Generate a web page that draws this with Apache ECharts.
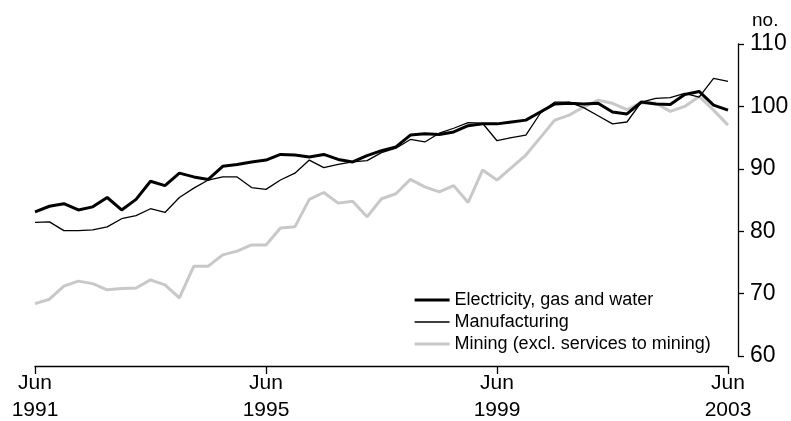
<!DOCTYPE html>
<html><head><meta charset="utf-8">
<script src="https://cdn.jsdelivr.net/npm/echarts@6/dist/echarts.min.js"></script>
<style>html,body{margin:0;padding:0;background:#fff}#c{width:791px;height:421px}</style>
</head><body><div id="c"></div>
<script>
// Quarterly, Jun 1991 .. Jun 2003
var months = ['Jun','Sep','Dec','Mar'];
var categories = [];
(function(){ for (var i = 0; i < 49; i++) { var m = months[i % 4]; var y = 1991 + Math.floor((i + 2) / 4); categories.push(m + ' ' + y); } })();

var electricity = [83.1,84.0,84.4,83.4,83.9,85.4,83.4,85.1,88.0,87.3,89.3,88.7,88.3,90.4,90.7,91.1,91.4,92.3,92.2,91.9,92.3,91.5,91.1,92.1,92.9,93.5,95.4,95.6,95.5,95.9,96.9,97.2,97.2,97.5,97.8,99.1,100.4,100.5,100.4,100.5,99.1,98.8,100.7,100.4,100.3,101.9,102.4,100.2,99.4];
var manufacturing = [81.4,81.5,80.1,80.1,80.2,80.7,82.0,82.5,83.6,83.0,85.4,86.9,88.2,88.7,88.7,87.0,86.7,88.2,89.3,91.4,90.2,90.7,91.1,91.3,92.6,93.3,94.7,94.3,95.7,96.5,97.4,97.3,94.5,95.0,95.4,98.9,100.7,100.7,99.8,98.5,97.2,97.5,100.7,101.3,101.4,102.1,101.5,104.5,104.0];
var mining = [68.4,69.1,71.2,72.0,71.6,70.6,70.8,70.9,72.2,71.4,69.3,74.4,74.4,76.2,76.8,77.8,77.8,80.5,80.7,85.1,86.2,84.5,84.8,82.3,85.2,86.0,88.3,87.1,86.3,87.3,84.6,89.8,88.2,90.2,92.2,95.0,97.8,98.6,99.9,101.0,100.5,99.5,100.6,100.5,99.2,100.0,101.6,99.4,97.0];
var seriesNames = ['Electricity, gas and water','Manufacturing','Mining (excl. services to mining)'];
var yTicks = {min: 60, max: 110, interval: 10};
var yUnit = 'no.';

var chart = echarts.init(document.getElementById('c'), null, {renderer: 'canvas'});
var font = "'Liberation Sans',Arial,sans-serif";
var noSym = {color: 'transparent', borderColor: 'transparent', borderWidth: 0, opacity: 0};
chart.setOption({
  animation: false,
  backgroundColor: '#fff',
  grid: {left: 35, right: 63, top: 44, bottom: 65, containLabel: false, outerBoundsMode: 'none'},
  graphic: [{type: 'text', left: 752, top: 11, style: {text: yUnit, fontSize: 19, fontFamily: font, fill: '#000'}}],
  legend: {
    orient: 'vertical', left: 408, top: 286, itemWidth: 35, itemHeight: 14, itemGap: 4,
    itemStyle: noSym,
    textStyle: {fontSize: 18, fontFamily: font, color: '#000'},
    data: [
      {name: seriesNames[0], itemStyle: noSym, lineStyle: {width: 3.2, color: '#000'}},
      {name: seriesNames[1], itemStyle: noSym, lineStyle: {width: 1.4, color: '#000'}},
      {name: seriesNames[2], itemStyle: noSym, lineStyle: {width: 3.2, color: '#c8c8c8'}}
    ]
  },
  xAxis: {
    type: 'category', data: categories, boundaryGap: false, offset: 10,
    axisLine: {lineStyle: {color: '#000', width: 1.3}},
    axisTick: {show: true, length: 8, lineStyle: {color: '#000', width: 1.3}, interval: function(i){ return i % 16 === 0; }},
    axisLabel: {interval: function(i){ return i % 16 === 0; }, margin: 4, color: '#000', fontSize: 21, lineHeight: 27, fontFamily: font,
      formatter: function(v){ var p = v.split(' '); return p[0] + '\n' + p[1]; }},
    splitLine: {show: false}
  },
  yAxis: {
    type: 'value', position: 'right', offset: 10, min: yTicks.min, max: yTicks.max, interval: yTicks.interval,
    axisLine: {show: true, lineStyle: {color: '#000', width: 1.3}},
    axisTick: {show: true, inside: false, length: 6, lineStyle: {color: '#000', width: 1.3}},
    axisLabel: {margin: 12, color: '#000', fontSize: 23, fontFamily: font},
    splitLine: {show: false}
  },
  series: [
    {name: seriesNames[2], type: 'line', data: mining, showSymbol: false, symbol: 'none', lineStyle: {color: '#c8c8c8', width: 3}, itemStyle: {color: '#c8c8c8'}, z: 1},
    {name: seriesNames[1], type: 'line', data: manufacturing, showSymbol: false, symbol: 'none', lineStyle: {color: '#000', width: 1.3}, itemStyle: {color: '#000'}, z: 2},
    {name: seriesNames[0], type: 'line', data: electricity, showSymbol: false, symbol: 'none', lineStyle: {color: '#000', width: 3}, itemStyle: {color: '#000'}, z: 3}
  ]
});
</script></body></html>
